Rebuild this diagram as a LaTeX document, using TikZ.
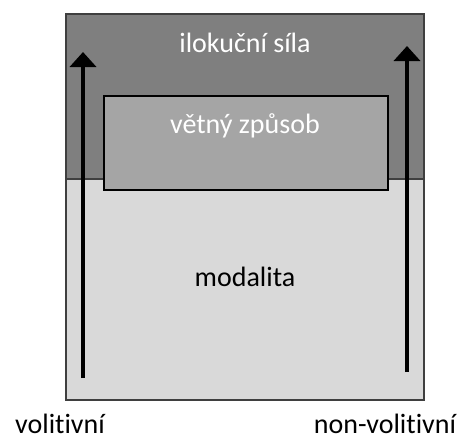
\documentclass[tikz,border=0pt]{standalone}
\usepackage{fontspec}
\setmainfont{Carlito}[Ligatures=NoCommon]
\usetikzlibrary{arrows.meta,positioning}
\definecolor{forcegray}{HTML}{7F7F7F}
\definecolor{moodgray}{HTML}{A5A5A5}
\definecolor{modalgray}{HTML}{D9D9D9}
\definecolor{edgegray}{HTML}{3F3F3F}

\begin{document}
\begin{tikzpicture}[
        x=1pt, y=-1pt,
        region/.style = {draw=edgegray, line width=1.5pt, inner sep=0pt, anchor=north west},
        label/.style = {font=\fontsize{28}{32}\selectfont, anchor=base, inner sep=0pt},
        scale arrow/.style = {line width=4pt, -{Triangle[width=26pt,length=15pt]}}]

    \useasboundingbox (0,0) rectangle (463,439);

    % three layers
    \node[region, fill=modalgray, minimum width=358pt, minimum height=221pt] (modality) at (65,178) {};
    \node[region, fill=forcegray, minimum width=358pt, minimum height=165pt] (force) at (65,13) {};
    \node[region, draw=black, fill=moodgray, minimum width=284pt, minimum height=94pt] (mood) at (103,95) {};

    % arrows
    \coordinate (lfoot) at (83,378);
    \coordinate (lhead) at (83,52);
    \coordinate (rfoot) at (407,372);
    \coordinate (rhead) at (407,46);
    \draw[scale arrow] (lfoot) -- (lhead);
    \draw[scale arrow] (rfoot) -- (rhead);

    % texts
    \node[label, white] (forcetext) at (245,52) {ilokuční síla};
    \node[label, white] (moodtext) at (245,133) {větný způsob};
    \node[label] (modaltext) at (245,286) {modalita};
    \node[label] (volit) at (60,433) {volitivní};
    \node[label] (nonvolit) at (385,433) {non-volitivní};

\end{tikzpicture}
\end{document}
